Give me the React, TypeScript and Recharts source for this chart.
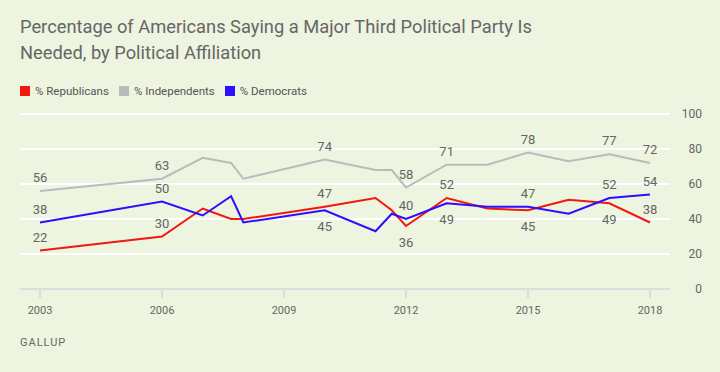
import { LineChart, Line, XAxis, YAxis, CartesianGrid, LabelList } from 'recharts';

const years = [2003, 2006, 2007, 2007.7, 2008, 2010, 2011.25, 2011.65, 2012, 2013, 2014, 2015, 2016, 2017, 2018];
const republicans = [22, 30, 46, 40, 40, 47, 52, 45, 36, 52, 46, 45, 51, 49, 38];
const independents = [56, 63, 75, 72, 63, 74, 68, 68, 58, 71, 71, 78, 73, 77, 72];
const democrats = [38, 50, 42, 53, 38, 45, 33, 43, 40, 49, 47, 47, 43, 52, 54];
const labeledYears = [2003, 2006, 2010, 2012, 2013, 2015, 2017, 2018];
const xTicks = [2003, 2006, 2009, 2012, 2015, 2018];
const yTicks = [0, 20, 40, 60, 80, 100];

const RED = '#F2180F';
const GRAY = '#BBBBBB';
const BLUE = '#2B0FFF';
const TEXT = '#666666';
const FONT = 'Roboto, "Noto Sans", sans-serif';

const data = years.map((year, i) => ({
    year,
    rep: republicans[i],
    ind: independents[i],
    dem: democrats[i],
}));

const series = [
    { key: 'rep', name: '% Republicans', color: RED },
    { key: 'ind', name: '% Independents', color: GRAY },
    { key: 'dem', name: '% Democrats', color: BLUE },
];

// rep/dem labels: when the two are close, the lower one goes under its point
function makeLabel(key: string) {
    return (props: any) => {
        const { x, y, index } = props;
        const row = data[index];
        if (!labeledYears.includes(row.year)) return null;
        const v = (row as any)[key];
        let below = false;
        if (key !== 'ind') {
            const other = key === 'rep' ? row.dem : row.rep;
            below = v < other && other - v < 10;
        }
        return (
            <text
                x={x}
                y={below ? y + 21 : y - 9}
                textAnchor="middle"
                fontSize={13}
                fill={TEXT}
                fontFamily={FONT}
            >
                {v}
            </text>
        );
    };
}

const YTick = (props: any) => {
    const { x, y, payload } = props;
    return (
        <text x={x + 24} y={y + 4} textAnchor="end" fontSize={12} fill={TEXT} fontFamily={FONT}>
            {payload.value}
        </text>
    );
};

export default function App() {
    return (
        <div style={{ position: 'absolute', left: 0, top: 0, width: 720, height: 372, background: '#EDF4DF', fontFamily: FONT }}>
            <div style={{ position: 'absolute', left: 20, top: 14, fontSize: 18.3, lineHeight: '26px', color: TEXT, width: 640 }}>
                Percentage of Americans Saying a Major Third Political Party Is
                <br />
                Needed, by Political Affiliation
            </div>
            <div style={{ position: 'absolute', left: 20, top: 84, display: 'flex', fontSize: 11.5, color: '#555', lineHeight: '14px' }}>
                {series.map((s) => (
                    <div key={s.key} style={{ display: 'flex', alignItems: 'center', marginRight: 10 }}>
                        <span style={{ width: 10, height: 10, background: s.color, marginRight: 5 }} />
                        {s.name}
                    </div>
                ))}
            </div>
            <div style={{ position: 'absolute', left: 0, top: 0 }}>
                <LineChart width={720} height={372} data={data} margin={{ top: 114, right: 0, left: 20, bottom: 53 }}>
                    <CartesianGrid vertical={false} stroke="#FFFFFF" strokeWidth={2} />
                    <XAxis
                        dataKey="year"
                        type="number"
                        domain={[2002.508, 2018.492]}
                        ticks={xTicks}
                        axisLine={{ stroke: '#DDDDDD', strokeWidth: 2 }}
                        tickLine={{ stroke: '#DDDDDD', strokeWidth: 2 }}
                        tickSize={9}
                        tickMargin={8}
                        tick={{ fontSize: 11, fill: TEXT, fontFamily: FONT }}
                        height={30}
                    />
                    <YAxis
                        orientation="right"
                        domain={[0, 100]}
                        ticks={yTicks}
                        axisLine={false}
                        tickLine={false}
                        tick={<YTick />}
                        width={50}
                    />
                    {series.map((s) => (
                        <Line
                            key={s.key}
                            dataKey={s.key}
                            stroke={s.color}
                            strokeWidth={2}
                            dot={false}
                            activeDot={false}
                            type="linear"
                            isAnimationActive={false}
                        >
                            <LabelList dataKey={s.key} content={makeLabel(s.key)} />
                        </Line>
                    ))}
                </LineChart>
            </div>
            <div style={{ position: 'absolute', left: 20, top: 336, fontSize: 11, letterSpacing: 1, color: TEXT }}>GALLUP</div>
        </div>
    );
}
